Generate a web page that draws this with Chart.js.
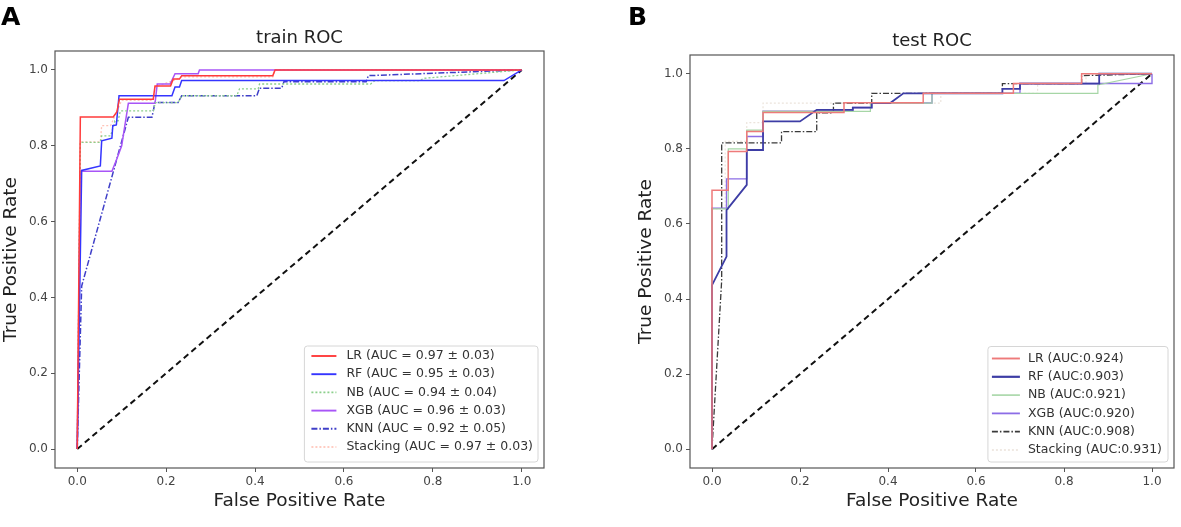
<!DOCTYPE html>
<html>
<head>
<meta charset="utf-8">
<script src="https://cdn.jsdelivr.net/npm/chart.js@4.4.1/dist/chart.umd.min.js"></script>
<style>
  body { margin: 0; background: #fff; width: 1181px; height: 527px; overflow: hidden; position: relative; }
  .panel { position: absolute; top: 0; height: 527px; }
  .tag { position: absolute; top: 4px; font: bold 25px "DejaVu Sans"; line-height: 25px; color: #000; }
</style>
</head>
<body>
<div class="panel" style="left:0;width:600px"><canvas id="trainChart"></canvas></div>
<div class="panel" style="left:600px;width:581px"><canvas id="testChart"></canvas></div>
<div class="tag" style="left:1px">A</div>
<div class="tag" style="left:628px">B</div>
<script>
var FONT = '"DejaVu Sans", sans-serif';
var tickValues = [0, 0.2, 0.4, 0.6, 0.8, 1.0];
var chanceFpr = [0, 1];
var chanceTpr = [0, 1];

// train ROC (mean curves over folds)
var trainLabels = ['LR (AUC = 0.97 \u00b1 0.03)', 'RF (AUC = 0.95 \u00b1 0.03)', 'NB (AUC = 0.94 \u00b1 0.04)',
                   'XGB (AUC = 0.96 \u00b1 0.03)', 'KNN (AUC = 0.92 \u00b1 0.05)', 'Stacking (AUC = 0.97 \u00b1 0.03)'];
var trainLrFpr = [0, 0.007, 0.081, 0.089, 0.095, 0.171, 0.175, 0.21, 0.216, 0.23, 0.235, 0.44, 0.445, 1.0];
var trainLrTpr = [0, 0.876, 0.876, 0.889, 0.923, 0.923, 0.958, 0.958, 0.976, 0.976, 0.985, 0.985, 1.0, 1.0];
var trainRfFpr = [0, 0.01, 0.052, 0.055, 0.078, 0.08, 0.088, 0.094, 0.213, 0.22, 0.23, 0.235, 0.96, 1.0];
var trainRfTpr = [0, 0.735, 0.747, 0.813, 0.82, 0.853, 0.855, 0.932, 0.932, 0.955, 0.955, 0.972, 0.972, 1.0];
var trainNbFpr = [0, 0.007, 0.052, 0.055, 0.075, 0.085, 0.092, 0.097, 0.171, 0.176, 0.227, 0.235, 0.359, 0.365, 0.407, 0.41, 0.66, 0.67, 0.77, 0.78, 1.0];
var trainNbTpr = [0, 0.809, 0.809, 0.826, 0.826, 0.866, 0.866, 0.892, 0.892, 0.914, 0.914, 0.932, 0.932, 0.95, 0.95, 0.963, 0.963, 0.972, 0.972, 0.978, 1.0];
var trainXgbFpr = [0, 0.007, 0.078, 0.089, 0.1, 0.115, 0.175, 0.18, 0.209, 0.22, 0.272, 0.275, 1.0];
var trainXgbTpr = [0, 0.733, 0.733, 0.765, 0.8, 0.912, 0.912, 0.963, 0.963, 0.99, 0.99, 1.0, 1.0];
var trainKnnFpr = [0, 0.01, 0.115, 0.168, 0.175, 0.227, 0.235, 0.404, 0.41, 0.46, 0.465, 0.65, 0.655, 1.0];
var trainKnnTpr = [0, 0.43, 0.875, 0.875, 0.914, 0.914, 0.932, 0.932, 0.952, 0.952, 0.969, 0.969, 0.985, 1.0];
var trainStackFpr = [0, 0.007, 0.052, 0.055, 0.075, 0.09, 0.1, 0.171, 0.175, 0.216, 0.235, 0.44, 0.445, 1.0];
var trainStackTpr = [0, 0.81, 0.81, 0.853, 0.853, 0.892, 0.92, 0.92, 0.955, 0.972, 0.982, 0.982, 1.0, 1.0];

// test ROC
var testLabels = ['LR (AUC:0.924)', 'RF (AUC:0.903)', 'NB (AUC:0.921)', 'XGB (AUC:0.920)', 'KNN (AUC:0.908)', 'Stacking (AUC:0.931)'];
var testLrFpr = [0, 0, 0.037, 0.037, 0.079, 0.079, 0.116, 0.116, 0.3, 0.3, 0.48, 0.48, 0.685, 0.685, 0.84, 0.84, 1.0];
var testLrTpr = [0, 0.69, 0.69, 0.793, 0.793, 0.846, 0.846, 0.897, 0.897, 0.923, 0.923, 0.948, 0.948, 0.974, 0.974, 1.0, 1.0];
var testRfFpr = [0, 0, 0.033, 0.033, 0.079, 0.079, 0.116, 0.116, 0.2, 0.238, 0.32, 0.32, 0.363, 0.363, 0.405, 0.435, 0.66, 0.66, 0.7, 0.7, 0.88, 0.88, 1.0];
var testRfTpr = [0, 0.437, 0.513, 0.637, 0.704, 0.797, 0.797, 0.873, 0.873, 0.904, 0.904, 0.91, 0.91, 0.922, 0.922, 0.948, 0.948, 0.96, 0.96, 0.974, 0.974, 1.0, 1.0];
var testNbFpr = [0, 0, 0.037, 0.037, 0.079, 0.079, 0.116, 0.116, 0.36, 0.36, 0.5, 0.5, 0.877, 0.877, 1.0];
var testNbTpr = [0, 0.64, 0.64, 0.8, 0.8, 0.85, 0.85, 0.9, 0.9, 0.922, 0.922, 0.948, 0.948, 0.97, 1.0];
var testXgbFpr = [0, 0, 0.033, 0.033, 0.079, 0.079, 0.116, 0.116, 0.32, 0.32, 0.363, 0.363, 0.5, 0.5, 0.7, 0.7, 1.0, 1.0];
var testXgbTpr = [0, 0.642, 0.642, 0.72, 0.72, 0.833, 0.833, 0.9, 0.9, 0.91, 0.91, 0.922, 0.922, 0.948, 0.948, 0.974, 0.974, 1.0];
var testKnnFpr = [0, 0.022, 0.022, 0.158, 0.158, 0.238, 0.238, 0.276, 0.276, 0.363, 0.363, 0.66, 0.66, 0.84, 0.84, 1.0];
var testKnnTpr = [0, 0.45, 0.816, 0.816, 0.846, 0.846, 0.896, 0.896, 0.922, 0.922, 0.948, 0.948, 0.974, 0.974, 0.995, 1.0];
var testStackFpr = [0, 0, 0.03, 0.03, 0.079, 0.079, 0.116, 0.116, 0.52, 0.52, 0.74, 0.74, 0.85, 0.85, 1.0];
var testStackTpr = [0, 0.64, 0.64, 0.82, 0.82, 0.87, 0.87, 0.922, 0.922, 0.948, 0.948, 0.974, 0.974, 1.0, 1.0];

function pts(xs, ys) {
    return xs.map(function (x, i) { return {x: x, y: ys[i]}; });
}

function line(label, xs, ys, color, width, dash) {
    return {
        label: label, data: pts(xs, ys), showLine: true, pointRadius: 0,
        borderColor: color, borderWidth: width, borderDash: dash || [], tension: 0, fill: false
    };
}

function chanceLine() {
    return line('', chanceFpr, chanceTpr, '#111', 2, [6, 4]);
}

// box round the plot, like matplotlib spines
var framePlugin = {
    id: 'frame',
    afterDraw: function (chart) {
        var a = chart.chartArea, ctx = chart.ctx;
        ctx.save();
        ctx.strokeStyle = '#555';
        ctx.lineWidth = 1.2;
        ctx.strokeRect(a.left, a.top, a.right - a.left, a.bottom - a.top);
        ctx.restore();
    }
};

// legend drawn inside the lower right corner of the plot
var insideLegend = {
    id: 'insideLegend',
    afterDatasetsDraw: function (chart, args, o) {
        var ctx = chart.ctx, a = chart.chartArea;
        var items = chart.data.datasets.filter(function (d) { return d.label; });
        ctx.save();
        ctx.font = o.fontSize + 'px ' + FONT;
        var tw = 0;
        items.forEach(function (d) { tw = Math.max(tw, ctx.measureText(d.label).width); });
        var w = o.padL + o.sampleLen + o.gap + tw + o.padR;
        var h = o.padT + o.rowH * (items.length - 1) + o.padB;
        var x = a.right - o.inset - w, y = a.bottom - o.inset - h, r = 3;
        ctx.beginPath();
        ctx.moveTo(x + r, y);
        ctx.arcTo(x + w, y, x + w, y + h, r);
        ctx.arcTo(x + w, y + h, x, y + h, r);
        ctx.arcTo(x, y + h, x, y, r);
        ctx.arcTo(x, y, x + w, y, r);
        ctx.closePath();
        ctx.fillStyle = 'rgba(255,255,255,0.85)';
        ctx.fill();
        ctx.strokeStyle = '#d6d6d6';
        ctx.lineWidth = 1;
        ctx.stroke();
        ctx.textBaseline = 'middle';
        items.forEach(function (d, i) {
            var ry = y + o.padT + i * o.rowH;
            ctx.beginPath();
            ctx.setLineDash(d.borderDash);
            ctx.strokeStyle = d.borderColor;
            ctx.lineWidth = d.borderWidth + 0.4;
            ctx.moveTo(x + o.padL, ry);
            ctx.lineTo(x + o.padL + o.sampleLen, ry);
            ctx.stroke();
            ctx.setLineDash([]);
            ctx.fillStyle = '#333';
            ctx.fillText(d.label, x + o.padL + o.sampleLen + o.gap, ry);
        });
        ctx.restore();
    }
};

function setTicks(scale) {
    scale.ticks = tickValues.map(function (v) { return {value: v}; });
}

function axis(text, fitSize, horizontal, titlePad) {
    return {
        type: 'linear', min: -0.05, max: 1.05,
        afterBuildTicks: setTicks,
        afterFit: function (s) { if (horizontal) { s.height = fitSize; } else { s.width = fitSize; } },
        border: {display: false},
        grid: {drawOnChartArea: false, drawTicks: true, tickLength: 4, color: '#555'},
        ticks: {
            color: '#444', font: {family: FONT, size: 12}, padding: 3, autoSkip: false, maxRotation: 0,
            callback: function (v) { return Number(v).toFixed(1); }
        },
        title: {display: true, text: text, color: '#222', font: {family: FONT, size: 18.5}, padding: titlePad}
    };
}

function rocOptions(cfg) {
    return {
        responsive: true, maintainAspectRatio: false, animation: false,
        layout: {padding: {left: 0, right: cfg.padRight, top: 0, bottom: 0}},
        plugins: {
            legend: {display: false},
            tooltip: {enabled: false},
            title: {
                display: true, text: cfg.title, fullSize: false, color: '#222',
                font: {family: FONT, size: 18, weight: 'normal'},
                padding: {top: cfg.titleTop, bottom: cfg.titleBottom}
            },
            insideLegend: cfg.legend
        },
        scales: {
            x: axis('False Positive Rate', 59, true, {top: 0, bottom: 15}),
            y: axis('True Positive Rate', cfg.yWidth, false, {top: cfg.yTitlePad, bottom: 0})
        }
    };
}

new Chart(document.getElementById('trainChart'), {
    type: 'scatter',
    data: {
        datasets: [
            line(trainLabels[0], trainLrFpr, trainLrTpr, '#ff3b3b', 1.5),
            line(trainLabels[1], trainRfFpr, trainRfTpr, '#3535ff', 1.5),
            line(trainLabels[2], trainNbFpr, trainNbTpr, '#8ccf8c', 1.3, [2, 2]),
            line(trainLabels[3], trainXgbFpr, trainXgbTpr, '#a855f7', 1.5),
            line(trainLabels[4], trainKnnFpr, trainKnnTpr, '#3f3fc8', 1.5, [6, 2, 1.5, 2]),
            line(trainLabels[5], trainStackFpr, trainStackTpr, '#ffc4b8', 1.3, [2, 2]),
            chanceLine()
        ]
    },
    options: rocOptions({
        title: 'train ROC', padRight: 56, titleTop: 28, titleBottom: 1.4, yWidth: 55, yTitlePad: 0,
        legend: {fontSize: 12.5, padL: 7, sampleLen: 25, gap: 10, padR: 5, padT: 10, rowH: 18.2, padB: 15, inset: 6}
    }),
    plugins: [framePlugin, insideLegend]
});

new Chart(document.getElementById('testChart'), {
    type: 'scatter',
    data: {
        datasets: [
            line(testLabels[0], testLrFpr, testLrTpr, '#ee7a7a', 1.5),
            line(testLabels[1], testRfFpr, testRfTpr, '#3d3da5', 1.8),
            line(testLabels[2], testNbFpr, testNbTpr, '#a6d6a6', 1.2),
            line(testLabels[3], testXgbFpr, testXgbTpr, '#8c6de6', 1.4),
            line(testLabels[4], testKnnFpr, testKnnTpr, '#3a3a3a', 1.3, [6, 2, 1.5, 2]),
            line(testLabels[5], testStackFpr, testStackTpr, '#ece4dc', 1.2, [2, 2]),
            chanceLine()
        ]
    },
    options: rocOptions({
        title: 'test ROC', padRight: 7, titleTop: 31, titleBottom: 2.4, yWidth: 90, yTitlePad: 35,
        legend: {fontSize: 12.5, padL: 4, sampleLen: 28, gap: 8, padR: 6, padT: 12, rowH: 18.3, padB: 12, inset: 6}
    }),
    plugins: [framePlugin, insideLegend]
});
</script>
</body>
</html>
